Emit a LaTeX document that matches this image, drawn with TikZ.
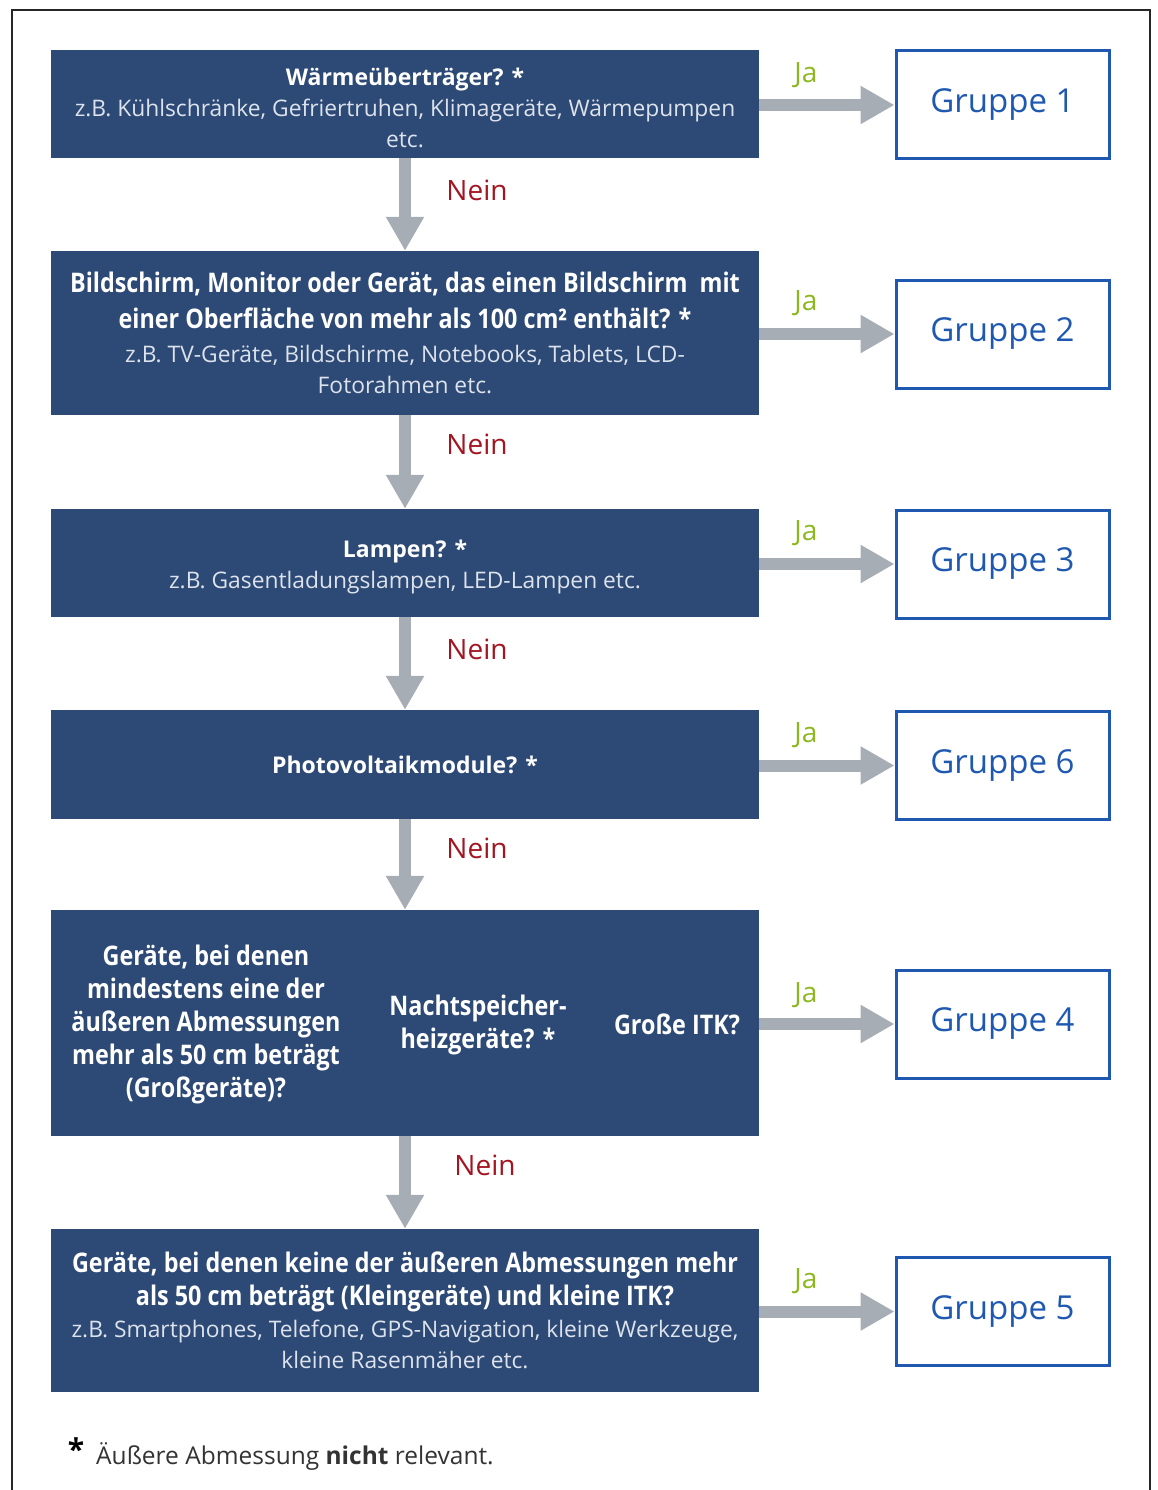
\documentclass[tikz,border=0pt]{standalone}
\usepackage{fontspec}
\setmainfont{Open Sans}
\newfontfamily\condfam[FakeStretch=0.865]{Open Sans}
\usetikzlibrary{arrows.meta}
\definecolor{boxblue}{HTML}{2D4975}
\definecolor{grpblue}{HTML}{1E58B0}
\definecolor{arrowgray}{HTML}{A7ADB5}
\definecolor{jagreen}{HTML}{8CB81E}
\definecolor{neinred}{HTML}{A31621}
\definecolor{subtext}{HTML}{DDE3EC}
\definecolor{foottext}{HTML}{333333}
\newcommand\ttlfont{\bfseries\fontsize{23}{31}\selectfont}
\newcommand\subfont{\color{subtext}\fontsize{22.8}{31}\selectfont}
\newcommand\cndfont{\condfam\bfseries\fontsize{27}{33}\selectfont}
\begin{document}
\begin{tikzpicture}[x=1pt,y=-1pt,
  qbox/.style={fill=boxblue, draw=none, minimum width=708pt, inner sep=0pt, text=white, align=center, font=\fontsize{22.8}{31}\selectfont},
  qtext/.style={inner sep=0pt, text=white, align=center, font=\fontsize{22.8}{31}\selectfont},
  grp/.style={draw=grpblue, line width=3pt, minimum width=213pt, minimum height=108pt, text=grpblue, font=\fontsize{33}{38}\selectfont, inner sep=0pt},
  flow/.style={draw=arrowgray, line width=12pt, -{Triangle[width=36pt,length=34pt]}},
  ja/.style={text=jagreen, font=\fontsize{28}{32}\selectfont},
  nein/.style={text=neinred, font=\fontsize{28}{32}\selectfont},
  coltext/.style={text=white, align=center, font=\cndfont, inner sep=0pt}]
\useasboundingbox (0,0) rectangle (1157,1490);
\draw[line width=1.5pt, draw=black!85] (12,1495) -- (12,10) -- (1150,10) -- (1150,1495);

% question boxes
\node[qbox, minimum height=108pt] (q1) at (405,104) {};
\node[qtext] (q1t) at (405,108) {{\ttlfont Wärmeüberträger? *}\\{\subfont z.B. Kühlschränke, Gefriertruhen, Klimageräte, Wärmepumpen}\\{\subfont etc.}};
\node[qbox, minimum height=164pt] (q2) at (405,333) {{\cndfont Bildschirm, Monitor oder Gerät, das einen Bildschirm\ \ mit}\\[5pt]{\cndfont einer Oberfläche von mehr als 100 cm² enthält? *}\\[3pt]{\subfont z.B. TV-Geräte, Bildschirme, Notebooks, Tablets, LCD-}\\{\subfont Fotorahmen etc.}};
\node[qbox, minimum height=108pt] (q3) at (405,563) {};
\node[qtext] (q3t) at (405,567) {{\ttlfont Lampen? *}\\{\subfont z.B. Gasentladungslampen, LED-Lampen etc.}};
\node[qbox, minimum height=109pt] (q4) at (405,764.5) {{\ttlfont Photovoltaikmodule? *}};
\node[qbox, minimum height=226pt] (q5) at (405,1023) {};
\node[coltext] (q5a) at (206,1024) {Geräte, bei denen\\mindestens eine der\\äußeren Abmessungen\\mehr als 50 cm beträgt\\(Großgeräte)?};
\node[coltext] (q5b) at (478,1025) {Nachtspeicher-\\heizgeräte? *};
\node[coltext] (q5c) at (677,1024) {Große ITK?};
\node[qbox, minimum height=163pt] (q6) at (405,1310.5) {{\cndfont Geräte, bei denen keine der äußeren Abmessungen mehr}\\[2pt]{\cndfont als 50 cm beträgt (Kleingeräte) und kleine ITK?}\\[1pt]{\subfont z.B. Smartphones, Telefone, GPS-Navigation, kleine Werkzeuge,}\\{\subfont kleine Rasenmäher etc.}};

% group boxes
\node[grp] (g1) at (1002.5,105) {Gruppe 1};
\node[grp] (g2) at (1002.5,334) {Gruppe 2};
\node[grp] (g3) at (1002.5,564) {Gruppe 3};
\node[grp] (g6) at (1002.5,765.5) {Gruppe 6};
\node[grp] (g4) at (1002.5,1024) {Gruppe 4};
\node[grp] (g5) at (1002.5,1311.5) {Gruppe 5};

% yes arrows
\draw[flow] (q1.east |- g1) -- (g1.west);
\draw[flow] (q2.east |- g2) -- (g2.west);
\draw[flow] (q3.east |- g3) -- (g3.west);
\draw[flow] (q4.east |- g6) -- (g6.west);
\draw[flow] (q5.east |- g4) -- (g4.west);
\draw[flow] (q6.east |- g5) -- (g5.west);
\node[ja] (ja1) at (806,75) {Ja};
\node[ja] (ja2) at (806,303) {Ja};
\node[ja] (ja3) at (806,533) {Ja};
\node[ja] (ja4) at (806,735) {Ja};
\node[ja] (ja5) at (806,995) {Ja};
\node[ja] (ja6) at (806,1281) {Ja};

% no arrows
\draw[flow] (q1.south) -- (q2.north);
\draw[flow] (q2.south) -- (q3.north);
\draw[flow] (q3.south) -- (q4.north);
\draw[flow] (q4.south) -- (q5.north);
\draw[flow] (q5.south) -- (q6.north);
\node[nein] (n1) at (477,190) {Nein};
\node[nein] (n2) at (477,444) {Nein};
\node[nein] (n3) at (477,649) {Nein};
\node[nein] (n4) at (477,848) {Nein};
\node[nein] (n5) at (485,1165) {Nein};

% footnote
\node[font=\bfseries\fontsize{30}{30}\selectfont, inner sep=0pt] (star) at (76,1449) {*};
\node[anchor=west, inner sep=0pt, text=foottext, font=\fontsize{24.5}{28}\selectfont] (foot) at (96,1456) {Äußere Abmessung \textbf{nicht} relevant.};
\end{tikzpicture}
\end{document}
